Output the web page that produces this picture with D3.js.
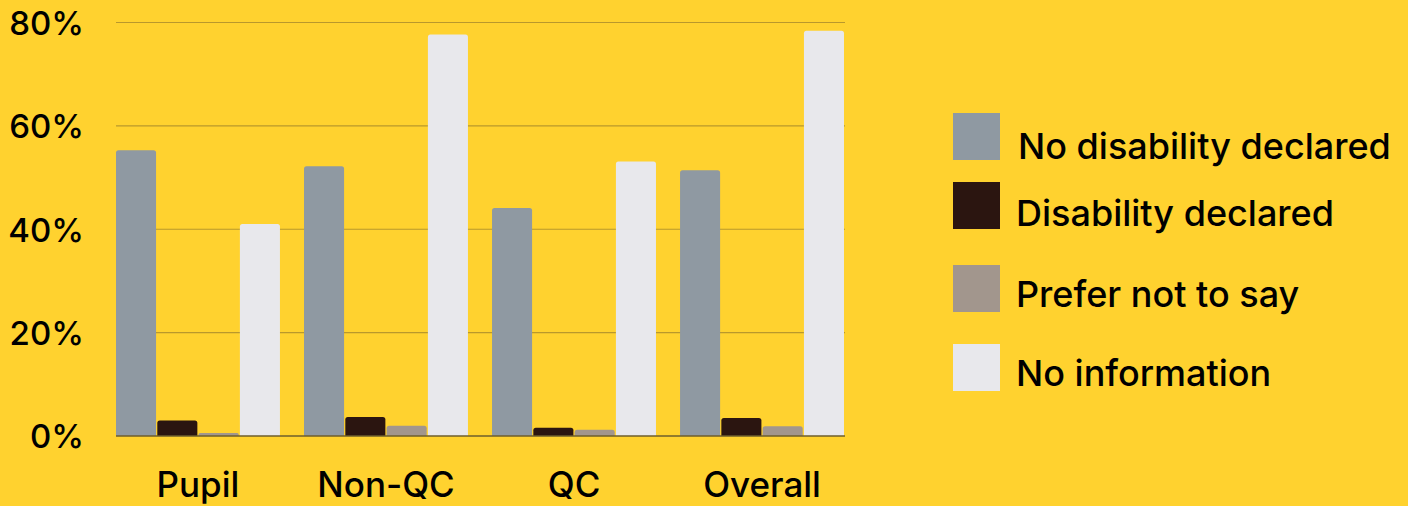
<!DOCTYPE html>
<html><head><meta charset="utf-8">
<script src="https://cdn.jsdelivr.net/npm/d3@7"></script>
<style>
html,body{margin:0;padding:0;background:#FFD22F;}
svg{display:block;}
text{font-family:Inter,Roboto,sans-serif;fill:#000;font-weight:500;}
</style></head><body>
<svg id="chart" width="1408" height="506"></svg>
<script>
const categories = ["Pupil","Non-QC","QC","Overall"];
const seriesNames = ["No disability declared","Disability declared","Prefer not to say","No information"];
const noDisability = [55.3, 52.2, 44.1, 51.4];
const disability = [3.0, 3.7, 1.6, 3.5];
const preferNot = [0.6, 2.0, 1.2, 1.9];
const noInformation = [41.0, 77.7, 53.1, 78.4];
const yTicks = [0, 20, 40, 60, 80];
const colors = ["#8F99A2","#2B1510","#A2968D","#E8E8EC"];

const seriesValues = [noDisability, disability, preferNot, noInformation];
const svg = d3.select("#chart");
const x0 = d3.scaleBand().domain(categories).range([116, 844]).paddingInner(0.128).paddingOuter(0);
const x1 = d3.scaleBand().domain(d3.range(4)).range([0, x0.bandwidth()]).paddingInner(0.03);
const y = d3.scaleLinear().domain([0, 80]).range([436, 22.5]);

// gridlines
svg.append("g").selectAll("line").data(yTicks.filter(t => t > 0)).join("line")
  .attr("x1", 116).attr("x2", 845).attr("y1", d => y(d)).attr("y2", d => y(d))
  .attr("stroke", "#B9982C").attr("stroke-width", 1.2);

// y labels
const yAxis = d3.axisLeft(y).tickValues(yTicks).tickFormat(d => d + "%").tickSize(0).tickPadding(0);
const ya = svg.append("g").attr("transform", "translate(84,0)").call(yAxis);
ya.select(".domain").remove();
ya.selectAll("text").attr("font-size", 33).attr("font-family", "Inter").attr("font-weight", 500).attr("fill", "#000").attr("dy", "0.36em");

// bars
const data = categories.map((c, i) => ({c, vals: seriesValues.map((s, j) => ({j, v: s[i]}))}));
const g = svg.append("g").selectAll("g").data(data).join("g")
  .attr("transform", d => `translate(${x0(d.c)},0)`);
g.selectAll("path").data(d => d.vals).join("path")
  .attr("fill", d => colors[d.j])
  .attr("d", d => {
    const x = x1(d.j), w = x1.bandwidth(), top = y(d.v), bot = y(0);
    const r = Math.min(2.5, (bot - top) / 2);
    return `M${x},${bot}V${top + r}Q${x},${top} ${x + r},${top}H${x + w - r}Q${x + w},${top} ${x + w},${top + r}V${bot}Z`;
  });

// baseline
svg.append("line").attr("x1", 116).attr("x2", 845).attr("y1", y(0)).attr("y2", y(0))
  .attr("stroke", "#6E5E2C").attr("stroke-width", 1.5);

// x labels
const xAxis = d3.axisBottom(x0).tickSize(0).tickPadding(0);
const xa = svg.append("g").attr("transform", "translate(0,497)").call(xAxis);
xa.select(".domain").remove();
xa.selectAll("text").attr("font-size", 35).attr("font-family", "Inter").attr("font-weight", 500).attr("fill", "#000").attr("dy", 0);

// legend
const legY = [113, 182, 265, 344];
const legTextX = [1018, 1016, 1016, 1016];
const legTextY = [159, 226, 307, 386];
const lg = svg.append("g").selectAll("g").data(seriesNames).join("g");
lg.append("rect").attr("x", 953).attr("y", (d, i) => legY[i]).attr("width", 47).attr("height", 47)
  .attr("fill", (d, i) => colors[i]);
lg.append("text").attr("x", (d, i) => legTextX[i]).attr("y", (d, i) => legTextY[i])
  .attr("font-size", 36).text(d => d);
</script>
</body></html>
